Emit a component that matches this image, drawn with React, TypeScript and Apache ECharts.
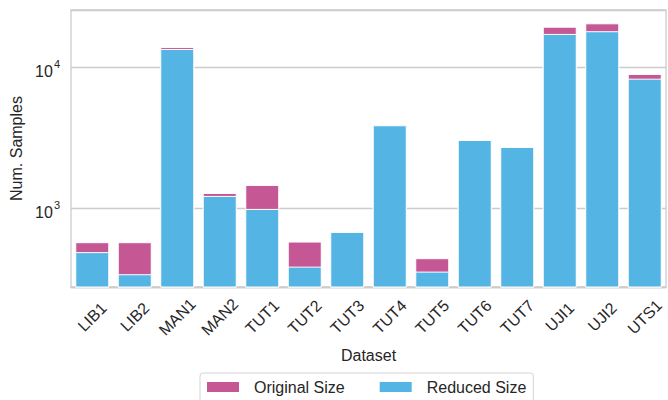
import React, { useEffect, useRef } from "react";
import * as echarts from "echarts";

const categories = ["LIB1", "LIB2", "MAN1", "MAN2", "TUT1", "TUT2", "TUT3", "TUT4", "TUT5", "TUT6", "TUT7", "UJI1", "UJI2", "UTS1"];
const originalSize = [575, 575, 13860, 1283, 1462, 581, 680, 3866, 443, 3040, 2716, 19280, 20370, 8920];
const reducedSize = [489, 341, 13410, 1222, 989, 386, 680, 3866, 356, 3040, 2716, 17130, 17900, 8260];
const seriesNames = ["Original Size", "Reduced Size"];

const FONT = "'Liberation Sans', Arial, sans-serif";
const TEXT = "#262626";
const GRID = "#cccccc";
const MAGENTA = "#C45794";
const BLUE = "#54B5E5";

export default function App() {
  const ref = useRef<HTMLDivElement>(null);
  useEffect(() => {
    const chart = echarts.init(ref.current!, null, { renderer: "svg" });
    chart.setOption({
      animation: false,
      textStyle: { fontFamily: FONT, color: TEXT },
      grid: {
        left: 71,
        right: 2,
        top: 10,
        bottom: 113,
        show: true,
        borderColor: GRID,
        borderWidth: 1.3,
        backgroundColor: "#ffffff",
      },
      legend: {
        data: seriesNames,
        left: 200,
        top: 373,
        icon: "rect",
        itemWidth: 32,
        itemHeight: 10,
        itemGap: 35,
        padding: [6, 7, 9, 7],
        borderColor: "#d4d4d4",
        borderWidth: 1,
        borderRadius: 3,
        itemStyle: { borderWidth: 0 },
        textStyle: { fontSize: 16, color: TEXT, fontFamily: FONT, padding: [0, 0, 0, 10] },
      },
      xAxis: {
        type: "category",
        data: categories,
        name: "Dataset",
        nameLocation: "middle",
        nameGap: 60,
        nameTextStyle: { fontSize: 16, color: TEXT, fontFamily: FONT },
        axisLine: { show: true, lineStyle: { color: GRID, width: 1.3 } },
        axisTick: { show: false },
        axisLabel: {
          interval: 0,
          rotate: 45,
          align: "center",
          verticalAlign: "middle",
          margin: 30,
          fontSize: 16,
          color: TEXT,
          fontFamily: FONT,
        },
      },
      yAxis: {
        type: "log",
        logBase: 10,
        min: 277,
        max: 25300,
        name: "Num. Samples",
        nameLocation: "middle",
        nameGap: 46,
        nameTextStyle: { fontSize: 16, color: TEXT, fontFamily: FONT },
        axisLine: { show: false },
        axisTick: { show: false },
        splitLine: { show: true, lineStyle: { color: GRID, width: 1.3 } },
        axisLabel: {
          showMinLabel: false,
          showMaxLabel: false,
          margin: 11,
          formatter: (v: number) => {
            const e = Math.log10(v);
            if (Math.abs(e - Math.round(e)) > 1e-6) return "";
            return `{b|10}{s|${Math.round(e)}}`;
          },
          rich: {
            b: { fontSize: 16, color: TEXT, fontFamily: FONT, padding: [9, 1, 0, 0] },
            s: { fontSize: 11, color: TEXT, fontFamily: FONT, padding: [0, 0, 6, 0] },
          },
        },
      },
      series: [
        {
          name: seriesNames[0],
          type: "bar",
          data: originalSize,
          barCategoryGap: "20%",
          barGap: "-100%",
          itemStyle: { color: MAGENTA, borderColor: "#ffffff", borderWidth: 1 },
        },
        {
          name: seriesNames[1],
          type: "bar",
          data: reducedSize,
          barCategoryGap: "20%",
          barGap: "-100%",
          itemStyle: { color: BLUE, borderColor: "#ffffff", borderWidth: 1 },
        },
      ],
    });
    return () => chart.dispose();
  }, []);
  return (
    <div
      ref={ref}
      style={{ position: "fixed", left: 0, top: 0, width: 668, height: 400, background: "#ffffff" }}
    />
  );
}
